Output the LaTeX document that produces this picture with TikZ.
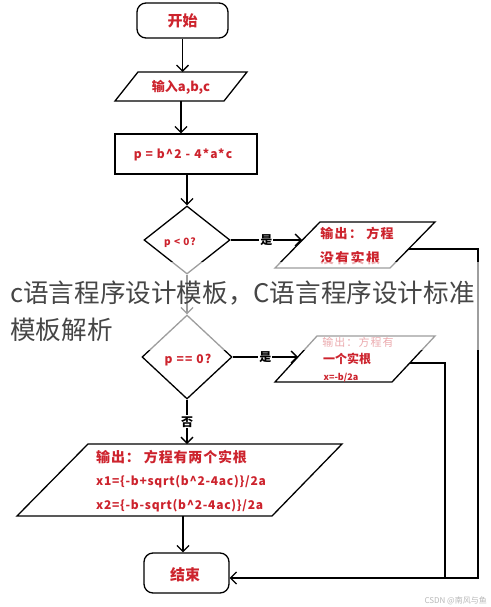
\documentclass[tikz,border=0pt]{standalone}
\usepackage{fontspec}
\setmainfont{Noto Sans CJK SC}
\usetikzlibrary{arrows.meta,shapes.geometric}
\definecolor{hanred}{RGB}{205,35,45}
\definecolor{titlegray}{RGB}{70,70,70}
\tikzset{
  edge/.style={line width=1.3pt},
  flow/.style={edge, -{Straight Barb[length=6pt,width=12pt]}},
  term/.style={draw, edge, rounded corners=9pt, inner sep=0pt},
  calcbox/.style={draw, edge, inner sep=0pt},
  cond/.style={draw, edge, diamond, inner sep=0pt},
  redtxt/.style={text=hanred, inner sep=0pt, font=\bfseries\fontsize{12}{14}\selectfont},
  yesno/.style={fill=white, inner sep=1pt, font=\bfseries\fontsize{12}{14}\selectfont},
}
\newcommand\handfont[2]{\bfseries\fontsize{#1}{#1}\selectfont\addfontfeature{LetterSpace=#2}}

\begin{document}
\begin{tikzpicture}[x=1pt, y=-1pt]
  \useasboundingbox (0,0) rectangle (490,607);
  \fill[white] (0,0) rectangle (490,607);

  %%%%% boxes %%%%%
  \node[term, minimum width=91pt, minimum height=35pt] (start) at (182.5,20.5) {};
  \node[redtxt, font=\handfont{15}{0}] (start-txt) at (start) {开始};

  \draw[edge] (138,72) -- (247,72) -- (224,101) -- (115,101) -- cycle;
  \coordinate (in-top) at (182.5,72);
  \coordinate (in-bot) at (181,101);
  \node[redtxt, font=\handfont{13}{0}] (in-txt) at (181,87) {输入a,b,c};

  \node[calcbox, minimum width=142pt, minimum height=40pt] (calc) at (186,154) {};
  \node[redtxt, font=\handfont{12}{10}] (calc-txt) at (183,155) {p = b\^{}2 - 4*a*c};

  \node[cond, minimum width=86pt, minimum height=68pt] (dia1) at (187,240) {};
  \node[redtxt, font=\handfont{10}{10}] (dia1-txt) at (180,243) {p < 0?};

  \node[cond, minimum width=90pt, minimum height=84pt] (dia2) at (187,357) {};
  \node[redtxt, font=\handfont{12}{10}] (dia2-txt) at (188,360) {p == 0?};

  % output: no real root
  \draw[edge] (320,222) -- (435,222) -- (390,268) -- (275,268) -- cycle;
  \coordinate (o1-in) at (302,240);
  \coordinate (o1-out) at (408.6,249);
  \node[redtxt, font=\handfont{13}{10}] (o1-l1) at (357,233) {输出：\ 方程};
  \node[redtxt, font=\handfont{14}{10}] (o1-l2) at (350,258) {没有实根};

  % output: one real root
  \draw[edge] (317,336) -- (435,336) -- (392,382) -- (275,382) -- cycle;
  \coordinate (o2-in) at (298,357);
  \coordinate (o2-out) at (410,363);
  \node[redtxt, font=\fontsize{11}{13}\selectfont\addfontfeature{LetterSpace=10}] (o2-l1) at (358,342) {输出：方程有};
  \node[redtxt] (o2-l2) at (347,359) {一个实根};
  \node[redtxt, font=\handfont{9}{0}] (o2-l3) at (341,378) {x=-b/2a};

  % output: two real roots
  \draw[edge] (88,444) -- (342,444) -- (272,516) -- (17,516) -- cycle;
  \coordinate (o3-top) at (187,444);
  \coordinate (o3-bot) at (183,516);
  \node[redtxt, anchor=west, font=\handfont{14}{6}] (o3-l1) at (96,457) {输出：\ 方程有两个实根};
  \node[redtxt, anchor=west, font=\handfont{12}{6}] (o3-l2) at (96,482) {x1=\{-b+sqrt(b\^{}2-4ac)\}/2a};
  \node[redtxt, anchor=west, font=\handfont{12}{6}] (o3-l3) at (96,506) {x2=\{-b-sqrt(b\^{}2-4ac)\}/2a};

  \node[term, minimum width=85pt, minimum height=40pt] (end) at (186.5,573) {};
  \node[redtxt, font=\handfont{15}{0}] (end-txt) at (185,575) {结束};

  %%%%% connectors %%%%%
  \draw[flow] (start.south) -- (in-top);
  \draw[flow] (in-bot) -- (in-bot |- calc.north);
  \draw[flow] (calc.south -| dia1.north) -- (dia1.north);
  \draw[flow] (dia1.east) -- node[yesno] (yes1) {是} (o1-in);
  \draw[flow] (dia1.south) -- (dia2.north);
  \draw[flow] (dia2.east) -- node[yesno] (yes2) {是} (o2-in);
  \draw[flow] (dia2.south) -- node[yesno] (no2) {否} (o3-top);
  \draw[flow] (o3-bot) -- (o3-bot |- end.north);

  \coordinate (loop-outer) at (478,578);
  \coordinate (loop-inner) at (445,578);
  \draw[flow] (o1-out) -| (loop-outer) -- (loop-outer -| end.east);
  \draw[edge] (o2-out) -| (loop-inner);

  %%%%% caption over the chart %%%%%
  \fill[white, fill opacity=0.62] (0,262) rectangle (490,350);
  \node[anchor=west, inner sep=0pt, text=titlegray, font=\fontsize{25.6}{28}\selectfont] (title1) at (10,293) {c语言程序设计模板，C语言程序设计标准};
  \node[anchor=west, inner sep=0pt, text=titlegray, font=\fontsize{25.6}{28}\selectfont] (title2) at (10,330) {模板解析};

  \node[anchor=east, inner sep=0pt, text=black!28, font=\fontsize{8}{10}\selectfont] (mark) at (487,601) {CSDN @南风与鱼};
\end{tikzpicture}
\end{document}
